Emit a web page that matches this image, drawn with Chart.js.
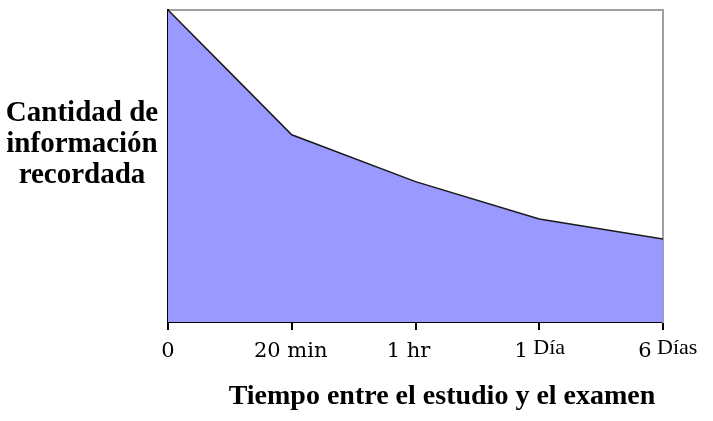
<!DOCTYPE html>
<html>
<head>
<meta charset="utf-8">
<script src="https://cdn.jsdelivr.net/npm/chart.js@4"></script>
<style>
  html, body { margin: 0; padding: 0; background: #fff; }
  #wrap { width: 713px; height: 421px; position: relative; }
</style>
</head>
<body>
<div id="wrap"><canvas id="curve"></canvas></div>
<script>
// curva del olvido
const timePoints = [0, 0.5, 1, 2, 3, 4];
const retention = [100, 80, 60, 45, 33, 26.6];
const tickLabels = ['0', '20 min', '1 hr', '1 Día', '6 Días'];
const yTitleLines = ['Cantidad de', 'información', 'recordada'];
const xTitle = 'Tiempo entre el estudio y el examen';

const SERIF = '"Liberation Serif", "DejaVu Serif", serif';
const TICKFONT = '"DejaVu Serif", serif';

const labelPlugin = {
  id: 'labelPlugin',
  afterDraw(chart) {
    const ctx = chart.ctx;
    const xs = chart.scales.x;
    ctx.save();
    ctx.fillStyle = '#000';
    ctx.textBaseline = 'alphabetic';
    // tick labels
    const shifts = [0, -1, -7];
    tickLabels.forEach((lbl, i) => {
      const px = xs.getPixelForValue(i);
      if (i < 3) {
        ctx.font = '21px ' + TICKFONT;
        ctx.textAlign = 'center';
        ctx.fillText(lbl, px + shifts[i], 357);
      } else {
        const sp = lbl.indexOf(' ');
        ctx.font = '21px ' + TICKFONT;
        ctx.textAlign = 'center';
        ctx.fillText(lbl.slice(0, sp), px - 18, 357);
        ctx.font = '22px ' + SERIF;
        ctx.textAlign = 'left';
        ctx.fillText(lbl.slice(sp + 1), px - 6, 354);
      }
    });
    // axis titles
    ctx.font = 'bold 29px ' + SERIF;
    ctx.textAlign = 'center';
    yTitleLines.forEach((t, i) => ctx.fillText(t, 82, 121 + i * 31));
    ctx.font = 'bold 28px ' + SERIF;
    ctx.fillText(xTitle, 442, 404);
    ctx.restore();
  }
};

const zero = function(scale) { scale.width = 0; scale.height = 0; };

new Chart(document.getElementById('curve'), {
  type: 'line',
  data: {
    datasets: [{
      data: timePoints.map((t, i) => ({ x: t, y: retention[i] })),
      backgroundColor: '#9999ff',
      borderColor: '#1a1a1a',
      borderWidth: 1.5,
      fill: 'origin',
      tension: 0,
      pointRadius: 0
    }]
  },
  options: {
    responsive: true,
    maintainAspectRatio: false,
    animation: false,
    layout: { padding: { left: 168, right: 50, top: 10, bottom: 99 } },
    plugins: { legend: { display: false }, tooltip: { enabled: false } },
    scales: {
      x: {
        type: 'linear', min: 0, max: 4,
        afterFit: zero,
        ticks: { display: false, stepSize: 1 },
        grid: { drawOnChartArea: false, drawTicks: true, tickLength: 8, color: '#000', lineWidth: 2 },
        border: { color: '#000', width: 2 }
      },
      x2: {
        type: 'linear', position: 'top', min: 0, max: 4,
        afterFit: zero,
        ticks: { display: false },
        grid: { display: false },
        border: { color: '#a0a0a0', width: 2 }
      },
      y: {
        min: 0, max: 100,
        afterFit: zero,
        ticks: { display: false },
        grid: { display: false },
        border: { color: '#000', width: 2 }
      },
      y2: {
        position: 'right', min: 0, max: 100,
        afterFit: zero,
        ticks: { display: false },
        grid: { display: false },
        border: { color: '#a0a0a0', width: 2 }
      }
    }
  },
  plugins: [labelPlugin]
});
</script>
</body>
</html>
